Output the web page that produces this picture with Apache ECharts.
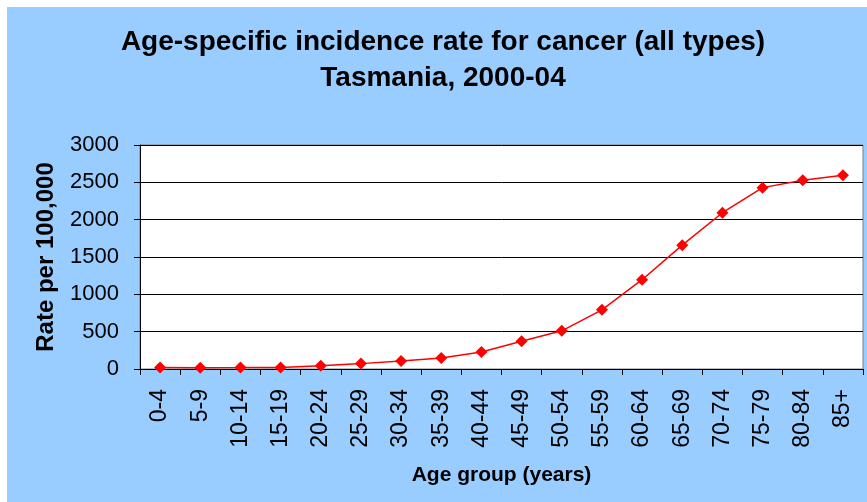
<!DOCTYPE html>
<html>
<head>
	<meta charset="UTF-8">
	<title>Age-specific incidence rate for cancer</title>
	<style>
		html, body { margin:0; padding:0; background:#ffffff; }
		#chart { width:867px; height:502px; }
	</style>
</head>
<body>
<div id="chart"></div>

<script src="https://cdn.jsdelivr.net/npm/echarts@6/dist/echarts.min.js"></script>
<script type="text/javascript">
	// age groups and rates
	var ageGroups = ['0-4', '5-9', '10-14', '15-19', '20-24', '25-29', '30-34', '35-39', '40-44',
		'45-49', '50-54', '55-59', '60-64', '65-69', '70-74', '75-79', '80-84', '85+'];
	var rates = [19, 18, 19, 21, 45, 72, 108, 148, 229, 372, 511, 793, 1196, 1659, 2093, 2429, 2527, 2594];

	var chart = echarts.init(document.getElementById('chart'));
	var font = 'Liberation Sans, Arial, sans-serif';

	var option =
	{
		animation: false,
		backgroundColor: '#ffffff',
		graphic: [{
			type: 'rect',
			z: -10,
			shape: { x: 7, y: 7, width: 860, height: 495 },
			style: { fill: '#99ccff' }
		}],
		title: {
			text: 'Age-specific incidence rate for cancer (all types)\nTasmania, 2000-04',
			left: 443,
			textAlign: 'center',
			top: 24,
			padding: 0,
			textStyle: {
				fontFamily: font,
				fontSize: 28,
				fontWeight: 'bold',
				color: '#000000',
				lineHeight: 36
			}
		},
		grid:
		{
			left: 140,
			right: 4,
			top: 145,
			bottom: 133,
			show: true,
			backgroundColor: '#ffffff',
			borderColor: '#808080',
			borderWidth: 1
		},
		xAxis:
		{
			type: 'category',
			data: ageGroups,
			boundaryGap: true,
			name: 'Age group (years)',
			nameLocation: 'middle',
			nameGap: 96,
			nameTextStyle: { fontFamily: font, fontSize: 21, fontWeight: 'bold', color: '#000000' },
			axisLine: { lineStyle: { color: '#000000', width: 1 } },
			axisTick: { show: true, length: 6, lineStyle: { color: '#000000' } },
			axisLabel: {
				interval: 0,
				rotate: 90,
				margin: 20,
				fontFamily: font,
				fontSize: 23,
				color: '#000000'
			},
			splitLine: { show: false }
		},
		yAxis:
		{
			type: 'value',
			min: 0,
			max: 3000,
			interval: 500,
			name: 'Rate per 100,000',
			nameLocation: 'middle',
			nameRotate: 90,
			nameGap: 82,
			nameTextStyle: { fontFamily: font, fontSize: 24, fontWeight: 'bold', color: '#000000' },
			axisLine: { show: true, lineStyle: { color: '#000000', width: 1 } },
			axisTick: { show: true, length: 6, lineStyle: { color: '#000000' } },
			axisLabel: {
				margin: 21,
				fontFamily: font,
				fontSize: 22,
				color: '#000000',
				formatter: function(v) { return String(v); }
			},
			splitLine: { show: true, lineStyle: { color: '#000000', width: 1 } }
		},
		series:
		[{
			type: 'line',
			data: rates,
			symbol: 'diamond',
			symbolSize: 12,
			lineStyle: { color: '#ff0000', width: 1.5 },
			itemStyle: { color: '#ff0000' }
		}]
	};
	chart.setOption(option);
</script>
</body>
</html>
